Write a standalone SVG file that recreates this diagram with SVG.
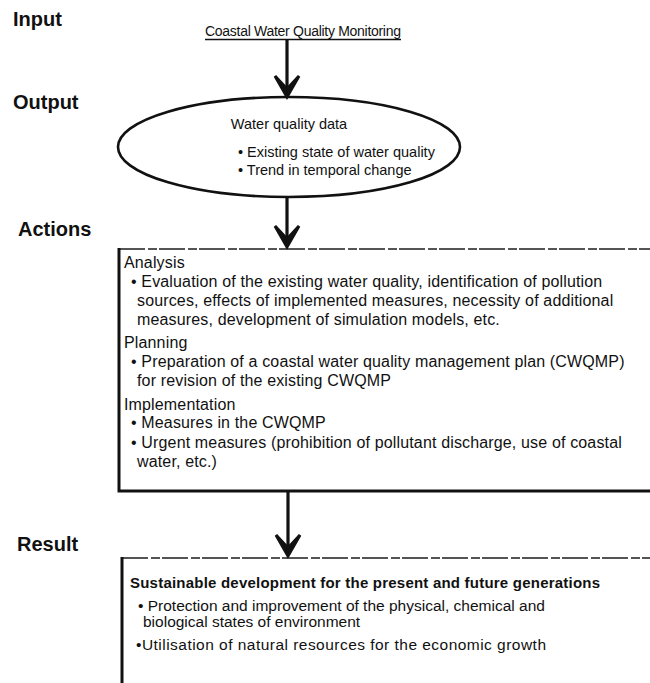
<svg xmlns="http://www.w3.org/2000/svg" width="650" height="683" viewBox="0 0 650 683">
  <style>
    text { font-family: "Liberation Sans", Arial, Helvetica, sans-serif; fill: #111; }
    .label { font-size: 20px; font-weight: bold; }
    .body { font-size: 16px; letter-spacing: 0.15px; }
    .small { font-size: 15.5px; }
    .oval { font-size: 14.5px; }
    .head { font-size: 15px; font-weight: bold; }
    .title { font-size: 14px; }
    .edge { stroke: #111; stroke-width: 3.2; fill: none; }
    .tip { stroke: #111; stroke-width: 3; fill: #111; stroke-linejoin: miter; }
    .thick { stroke: #111; stroke-width: 3; fill: none; }
    .thin { stroke: #555; stroke-width: 2; fill: none; stroke-dasharray: 26 3 9 2; }
  </style>
  <defs>
    <!-- downward arrowhead, tip at the origin -->
    <path id="head" d="M-12,-21 L0,0 L12,-21 L0,-8 Z"/>
  </defs>

  <rect width="650" height="683" fill="#fff"/>

  <!-- stage labels -->
  <g id="labels">
    <text class="label" x="13" y="26">Input</text>
    <text class="label" x="13" y="109">Output</text>
    <text class="label" x="18" y="236">Actions</text>
    <text class="label" x="17" y="551">Result</text>
  </g>

  <!-- input: monitoring -->
  <g id="input">
    <text class="title" x="205" y="36" textLength="196">Coastal Water Quality Monitoring</text>
    <line x1="205" y1="39.5" x2="401" y2="39.5" stroke="#111" stroke-width="1.5"/>
  </g>

  <!-- output: water quality data -->
  <g id="output">
    <ellipse cx="289" cy="147" rx="171" ry="50" stroke="#111" stroke-width="2.6" fill="none"/>
    <text class="oval" x="289" y="129" text-anchor="middle">Water quality data</text>
    <text class="oval" x="238" y="157">• Existing state of water quality</text>
    <text class="oval" x="238" y="175">• Trend in temporal change</text>
  </g>

  <!-- actions -->
  <g id="actions">
    <line class="thin" x1="119" y1="249" x2="650" y2="249"/>
    <polyline class="thick" points="119,248 119,491 650,491"/>
    <text class="body" x="124" y="268">Analysis</text>
    <text class="body" x="131" y="287">• Evaluation of the existing water quality, identification of pollution</text>
    <text class="body" x="137" y="306">sources, effects of implemented measures, necessity of additional</text>
    <text class="body" x="137" y="325">measures, development of simulation models, etc.</text>
    <text class="body" x="124" y="348">Planning</text>
    <text class="body" x="131" y="367">• Preparation of a coastal water quality management plan (CWQMP)</text>
    <text class="body" x="137" y="386">for revision of the existing CWQMP</text>
    <text class="body" x="124" y="410">Implementation</text>
    <text class="body" x="131" y="428">• Measures in the CWQMP</text>
    <text class="body" x="131" y="448">• Urgent measures (prohibition of pollutant discharge, use of coastal</text>
    <text class="body" x="137" y="467">water, etc.)</text>
  </g>

  <!-- result -->
  <g id="result">
    <line class="thin" x1="122" y1="558" x2="650" y2="558"/>
    <line class="thick" x1="122" y1="557" x2="122" y2="683"/>
    <text class="head" x="130" y="588" textLength="470">Sustainable development for the present and future generations</text>
    <text class="small" x="138" y="611">• Protection and improvement of the physical, chemical and</text>
    <text class="small" x="143" y="627">biological states of environment</text>
    <text class="small" x="136" y="650" textLength="410">•Utilisation of natural resources for the economic growth</text>
  </g>

  <!-- connectors -->
  <g id="connectors">
    <line class="edge" x1="287" y1="40" x2="287" y2="90"/>
    <use href="#head" class="tip" transform="translate(287,97)"/>
    <line class="edge" x1="287" y1="197" x2="287" y2="240"/>
    <use href="#head" class="tip" transform="translate(287,247)"/>
    <line class="edge" x1="288" y1="492" x2="288" y2="549"/>
    <use href="#head" class="tip" transform="translate(288,556)"/>
  </g>
</svg>
